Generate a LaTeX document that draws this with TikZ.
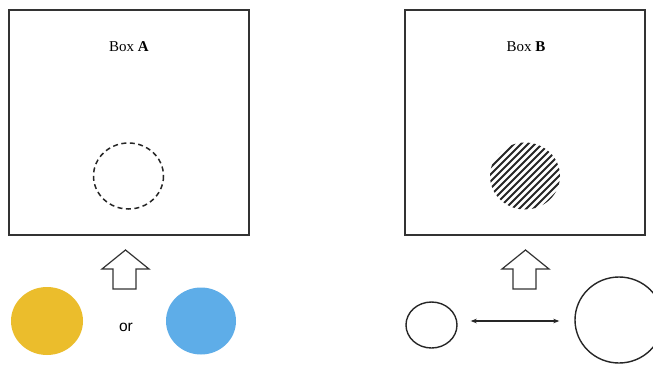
\documentclass[tikz,border=0pt]{standalone}
\usepackage{fontspec}
\setmainfont{Liberation Serif}
\newfontfamily\orfont{Liberation Sans}
\usetikzlibrary{arrows.meta,shapes.geometric}
\definecolor{ballyellow}{HTML}{EBBD2C}
\definecolor{ballblue}{HTML}{5EADE8}
\definecolor{edgegray}{HTML}{333333}
\tikzset{
  boxframe/.style={draw=edgegray, line width=1.4pt, minimum width=240pt, minimum height=225pt, inner sep=0pt},
  boxlabel/.style={font=\fontsize{15}{18}\selectfont, inner sep=0pt},
  hollowarrow/.style={draw=edgegray, line width=1.2pt, line join=miter, fill=white},
  outlineball/.style={draw=black!85, line width=1.4pt, ellipse, inner sep=0pt},
  dashball/.style={draw=black!85, line width=1.5pt, dash pattern=on 5pt off 3.5pt},
  swap/.style={{Stealth[length=6pt,width=4.5pt]}-{Stealth[length=6pt,width=4.5pt]}, line width=1.2pt, black!85, shorten <=13pt, shorten >=15pt},
}
\begin{document}
\begin{tikzpicture}[x=1pt,y=-1pt]
\useasboundingbox (0,0) rectangle (653,364);
\clip (0,0) rectangle (653,364);
\fill[white] (0,0) rectangle (653,364);

% Box A
\node[boxframe] (boxA) at (129,122.5) {};
\node[boxlabel] (labA) at (129,47) {Box \textbf{A}};
\draw[dashball] (128.5,176) ellipse [x radius=35, y radius=33];

% Arrow A
\draw[hollowarrow] (125.5,250) -- (149,269) -- (136,269) -- (136,289) -- (113,289) -- (113,269) -- (102,269) -- cycle;

% Balls A
\fill[ballyellow] (47,321) ellipse [x radius=36, y radius=34];
\node[font=\orfont\fontsize{15.5}{18}\selectfont, inner sep=0pt] (orlab) at (126,327) {or};
\fill[ballblue] (201,321) ellipse [x radius=35, y radius=33.5];

% Box B
\node[boxframe] (boxB) at (525,122.5) {};
\node[boxlabel] (labB) at (526,47) {Box \textbf{B}};
\begin{scope}
  \clip (525,176) ellipse [x radius=35, y radius=33.5];
  \foreach \c in {-120,-113,...,120} {
    \draw[line width=2pt, black!85] (525+\c-60,176+60) -- (525+\c+60,176-60);
  }
\end{scope}

% Arrow B
\draw[hollowarrow] (525.5,250) -- (549,269) -- (536,269) -- (536,289) -- (513,289) -- (513,269) -- (502,269) -- cycle;

% Balls B
\node[outlineball, minimum width=51pt, minimum height=46pt] (small) at (431.5,325) {};
\node[outlineball, minimum width=88pt, minimum height=86pt] (big) at (619,320) {};
\draw[swap] (small.east |- 0,321) -- (big.west |- 0,321);
\end{tikzpicture}
\end{document}
